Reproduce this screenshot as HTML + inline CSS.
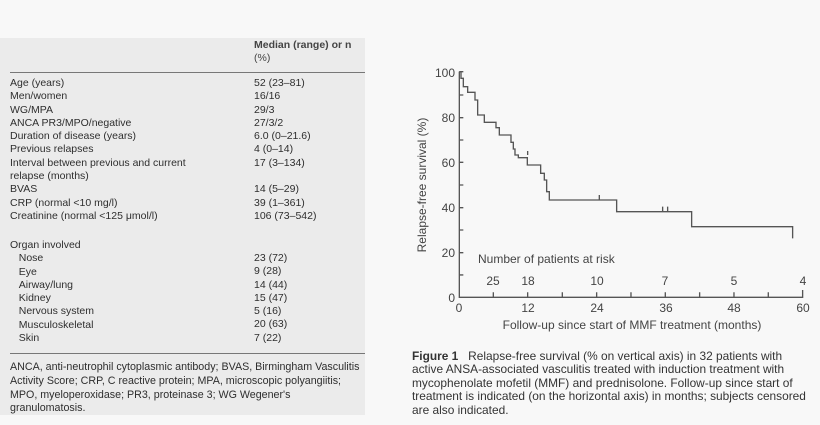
<!DOCTYPE html>
<html><head><style>
body{margin:0;width:820px;height:425px;background:#f8f8f8;overflow:hidden;position:relative;font-family:"Liberation Sans",sans-serif;color:#333}
.panel{position:absolute;left:0;top:38px;width:365px;height:377px;background:#ebebeb}
.t{position:absolute;font-size:10.5px;line-height:13.3px;white-space:nowrap;color:#2e2e2e}
.rule{position:absolute;left:10px;width:355px;height:1px;background:#777}
.cap{position:absolute;left:412px;top:350px;font-size:11.9px;line-height:13.4px;width:408px;color:#333;height:75px;overflow:hidden;white-space:nowrap}
</style></head><body>
<div class="panel"></div>
<div class="t" style="left:254px;top:39px;font-weight:bold;color:#444">Median (range) or n<br><span style="font-weight:normal">(%)</span></div>
<div class="rule" style="top:72px"></div>
<div class="t" style="left:10px;top:77px">Age (years)<br>Men/women<br>WG/MPA<br>ANCA PR3/MPO/negative<br>Duration of disease (years)<br>Previous relapses<br>Interval between previous and current<br>relapse (months)<br>BVAS<br>CRP (normal &lt;10 mg/l)<br>Creatinine (normal &lt;125 μmol/l)</div>
<div class="t" style="left:254px;top:77px">52 (23–81)<br>16/16<br>29/3<br>27/3/2<br>6.0 (0–21.6)<br>4 (0–14)<br>17 (3–134)<br><br>14 (5–29)<br>39 (1–361)<br>106 (73–542)</div>
<div class="t" style="left:10px;top:239px">Organ involved<br>&nbsp;&nbsp;&nbsp;Nose<br>&nbsp;&nbsp;&nbsp;Eye<br>&nbsp;&nbsp;&nbsp;Airway/lung<br>&nbsp;&nbsp;&nbsp;Kidney<br>&nbsp;&nbsp;&nbsp;Nervous system<br>&nbsp;&nbsp;&nbsp;Musculoskeletal<br>&nbsp;&nbsp;&nbsp;Skin</div>
<div class="t" style="left:254px;top:252px">23 (72)<br>9 (28)<br>14 (44)<br>15 (47)<br>5 (16)<br>20 (63)<br>7 (22)</div>
<div class="rule" style="top:353px"></div>
<div class="t" style="left:10px;top:361px;font-size:10.7px;line-height:13.8px">ANCA, anti-neutrophil cytoplasmic antibody; BVAS, Birmingham Vasculitis<br>Activity Score; CRP, C reactive protein; MPA, microscopic polyangiitis;<br>MPO, myeloperoxidase; PR3, proteinase 3; WG Wegener's<br>granulomatosis.</div>

<svg style="position:absolute;left:0;top:0" width="820" height="425">
<g transform="translate(400,55) scale(0.3333)" fill="none" stroke="#555" stroke-width="4">
<path d="M178,50V727H1208V705"/>
<path d="M178,50H190M178,120H190M178,188H190M178,255H190M178,322H190M178,390H190M178,458H190M178,525H190M178,593H190M178,660H190"/>
<path d="M280,727V712M383,727V712M487,727V712M590,727V712M693,727V712M796,727V712M899,727V712M1002,727V712M1105,727V712"/>
<path d="M178,50H183V70H190V95H203V112H225V135H233V180H253V202H288V218H298V240H333V262H340V282H345V300H355V308H382V330H422V355H433V375H440V410H448V435H650V470H875V515H1178V550"/>
<path d="M598,435V420M788,470V455M803,470V455M383,300V288"/>
</g>
<g font-family="Liberation Sans,sans-serif" font-size="12" fill="#444">
<g text-anchor="end"><text x="455" y="77">100</text><text x="455" y="122">80</text><text x="455" y="167">60</text><text x="455" y="212">40</text><text x="455" y="257">20</text><text x="455" y="302">0</text></g>
<g text-anchor="middle"><text x="459" y="312">0</text><text x="528" y="312">12</text><text x="597" y="312">24</text><text x="666" y="312">36</text><text x="734" y="312">48</text><text x="803" y="312">60</text>
<text x="493" y="285">25</text><text x="528" y="285">18</text><text x="597" y="285">10</text><text x="665" y="285">7</text><text x="734" y="285">5</text><text x="803" y="285">4</text>
<text x="632" y="329">Follow-up since start of MMF treatment (months)</text>
<text transform="translate(426,185) rotate(-90)">Relapse-free survival (%)</text></g>
<text x="478" y="263">Number of patients at risk</text>
</g>
</svg>
<div class="cap"><b>Figure 1</b>&nbsp;&nbsp; Relapse-free survival (% on vertical axis) in 32 patients with<br>active ANSA-associated vasculitis treated with induction treatment with<br>mycophenolate mofetil (MMF) and prednisolone. Follow-up since start of<br>treatment is indicated (on the horizontal axis) in months; subjects censored<br>are also indicated.</div>
</body></html>
